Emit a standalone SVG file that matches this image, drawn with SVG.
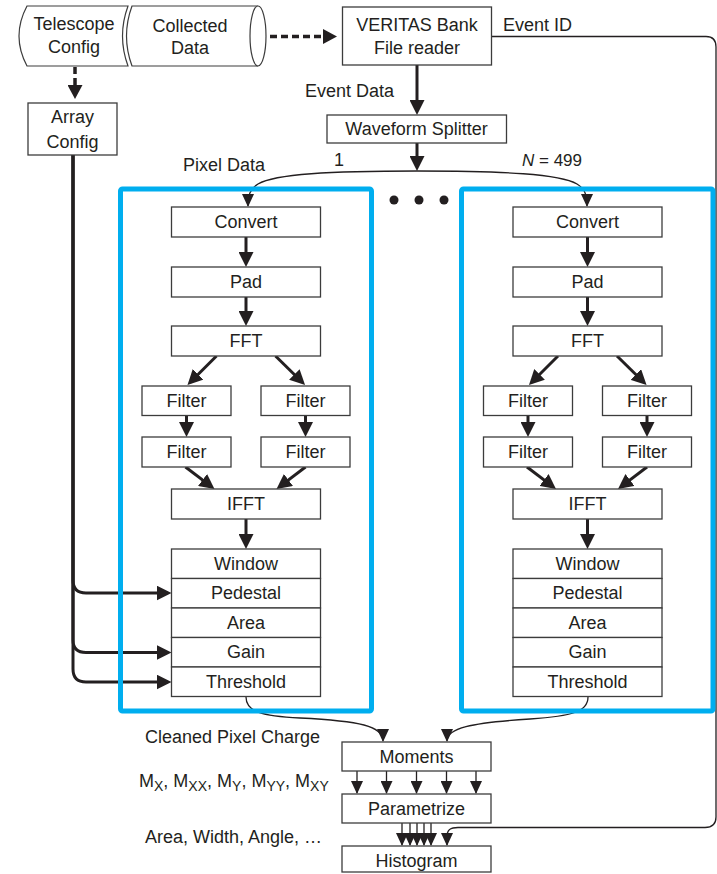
<svg xmlns="http://www.w3.org/2000/svg" width="717" height="874" viewBox="0 0 717 874">
<style>
text{font-family:"Liberation Sans",Arial,sans-serif;font-size:18px;fill:#231f20}
.c{text-anchor:middle}
.box{fill:#fff;stroke:#3c3c3c;stroke-width:1.3}
.cyl{fill:#fff;stroke:#3c3c3c;stroke-width:1.2}
.blue{fill:none;stroke:#00aeef;stroke-width:5}
.thick{fill:none;stroke:#231f20;stroke-width:3}
.thin{fill:none;stroke:#231f20;stroke-width:1.3}
.dash{fill:none;stroke:#231f20;stroke-width:3.5;stroke-dasharray:7 4}
</style>
<defs>
<marker id="a" markerUnits="userSpaceOnUse" viewBox="0 0 15 15" refX="11" refY="7.5" markerWidth="15" markerHeight="15" orient="auto"><path d="M0,0 L15,7.5 L0,15 z" fill="#231f20"/></marker>
<marker id="t" markerUnits="userSpaceOnUse" viewBox="0 0 13 12" refX="12" refY="6" markerWidth="13" markerHeight="12" orient="auto"><path d="M0,0 L13,6 L0,12 z" fill="#231f20"/></marker>
<marker id="d" markerUnits="userSpaceOnUse" viewBox="0 0 14 15" refX="9" refY="7.5" markerWidth="14" markerHeight="15" orient="auto"><path d="M0,0 L14,7.5 L0,15 z" fill="#231f20"/></marker>
</defs>

<g id="connectors">
<path class="dash" d="M259,36.5 H332" marker-end="url(#d)"/>
<path class="dash" d="M75,67 V94" marker-end="url(#d)"/>
<path class="thick" d="M417,65 V111" marker-end="url(#a)"/>
<path class="thick" d="M417,143 V167" marker-end="url(#a)"/>
<path class="thin" d="M417,171 C330,171 275,174 258,184 C250,189 248,195 248,206" marker-end="url(#t)"/>
<path class="thin" d="M417,171 C504,171 560,174 577,184 C585,189 587,195 587,206" marker-end="url(#t)"/>
<path class="thin" d="M491,36.5 H706 Q716,36.5 716,47 V817 Q716,827.5 705,827.5 H458 C450,827.5 447,830 447,836 V845" marker-end="url(#t)"/>
<path class="thick" d="M73,155 V580 Q73,593 86,593 H167.5" marker-end="url(#a)"/>
<path class="thick" d="M73,155 V640 Q73,652.5 86,652.5 H167.5" marker-end="url(#a)"/>
<path class="thick" d="M73,155 V669 Q73,682 86,682 H167.5" marker-end="url(#a)"/>
<!-- left column -->
<path class="thick" d="M246,237 V263" marker-end="url(#a)"/>
<path class="thick" d="M246,297 V322" marker-end="url(#a)"/>
<path class="thick" d="M216.5,356 L190.3,382.2" marker-end="url(#a)"/>
<path class="thick" d="M275.5,356 L302.2,382.2" marker-end="url(#a)"/>
<path class="thick" d="M186.5,415.5 V433" marker-end="url(#a)"/>
<path class="thick" d="M305.5,415.5 V433" marker-end="url(#a)"/>
<path class="thick" d="M185.5,467 L211.3,486.6" marker-end="url(#a)"/>
<path class="thick" d="M305.5,467 L279.7,486.6" marker-end="url(#a)"/>
<path class="thick" d="M246,519 V545" marker-end="url(#a)"/>
<!-- right column -->
<path class="thick" d="M587.5,237 V263" marker-end="url(#a)"/>
<path class="thick" d="M587.5,297 V322" marker-end="url(#a)"/>
<path class="thick" d="M558,356 L531.8,382.2" marker-end="url(#a)"/>
<path class="thick" d="M617,356 L643.7,382.2" marker-end="url(#a)"/>
<path class="thick" d="M528,415.5 V433" marker-end="url(#a)"/>
<path class="thick" d="M647,415.5 V433" marker-end="url(#a)"/>
<path class="thick" d="M527,467 L552.8,486.6" marker-end="url(#a)"/>
<path class="thick" d="M647,467 L621.2,486.6" marker-end="url(#a)"/>
<path class="thick" d="M587.5,519 V545" marker-end="url(#a)"/>
<!-- to moments -->
<path class="thin" d="M246,697 C246,712 262,716 300,718 C360,721 383,726 383,741" marker-end="url(#t)"/>
<path class="thin" d="M588,697 C588,712 572,716 530,719 C470,723 447,728 447,741" marker-end="url(#t)"/>
<path class="thin" d="M357,771 V793" marker-end="url(#t)"/>
<path class="thin" d="M386.5,771 V793" marker-end="url(#t)"/>
<path class="thin" d="M416.5,771 V793" marker-end="url(#t)"/>
<path class="thin" d="M446.5,771 V793" marker-end="url(#t)"/>
<path class="thin" d="M476,771 V793" marker-end="url(#t)"/>
<path class="thin" d="M402,823 V845" marker-end="url(#t)"/>
<path class="thin" d="M410,823 V845" marker-end="url(#t)"/>
<path class="thin" d="M417,823 V845" marker-end="url(#t)"/>
<path class="thin" d="M424,823 V845" marker-end="url(#t)"/>
<path class="thin" d="M431,823 V845" marker-end="url(#t)"/>
</g>

<g id="labels">
<text x="503" y="31">Event ID</text>
<text x="305" y="96.5">Event Data</text>
<text x="183" y="170.5">Pixel Data</text>
<text x="334" y="166">1</text>
<text x="522" y="166" style="font-size:17px"><tspan font-style="italic">N</tspan> = 499</text>
<circle cx="394" cy="200" r="4.5" fill="#231f20"/>
<circle cx="419" cy="200" r="4.5" fill="#231f20"/>
<circle cx="444" cy="200" r="4.5" fill="#231f20"/>
<text x="145" y="742.5">Cleaned Pixel Charge</text>
<text x="139" y="786.5">M<tspan dy="4" style="font-size:14px">X</tspan><tspan dy="-4">, M</tspan><tspan dy="4" style="font-size:14px">XX</tspan><tspan dy="-4">, M</tspan><tspan dy="4" style="font-size:14px">Y</tspan><tspan dy="-4">, M</tspan><tspan dy="4" style="font-size:14px">YY</tspan><tspan dy="-4">, M</tspan><tspan dy="4" style="font-size:14px">XY</tspan></text>
<text x="145" y="843">Area, Width, Angle, …</text>
</g>

<g id="telescope-config">
<path class="cyl" d="M27,6 H128 Q117,36 128,66 H27 Q11,36 27,6 Z"/>
<text class="c" x="74" y="30">Telescope</text>
<text class="c" x="74" y="53">Config</text>
</g>
<g id="collected-data">
<path class="cyl" d="M132,6 H258 A8,30 0 0 1 258,66 H132 Q121,36 132,6 Z"/>
<path class="cyl" d="M258,6 A8,30 0 0 0 258,66"/>
<text class="c" x="190" y="31.5">Collected</text>
<text class="c" x="190" y="53.5">Data</text>
</g>
<g id="array-config">
<rect class="box" x="28" y="103" width="89" height="52"/>
<text class="c" x="72.5" y="123">Array</text>
<text class="c" x="72.5" y="147.5">Config</text>
</g>
<g id="veritas-reader">
<rect class="box" x="342.5" y="7" width="149" height="58"/>
<text class="c" x="417" y="31">VERITAS Bank</text>
<text class="c" x="417" y="54">File reader</text>
</g>
<g id="waveform-splitter">
<rect class="box" x="327" y="115" width="179.5" height="28"/>
<text class="c" x="416.5" y="135">Waveform Splitter</text>
</g>

<g id="pixel-1">
<rect class="blue" x="120.5" y="189" width="251" height="522" rx="2"/>
<g id="convert-1"><rect class="box" x="171.5" y="207" width="149" height="30"/><text class="c" x="246" y="228">Convert</text></g>
<g id="pad-1"><rect class="box" x="171.5" y="267" width="149" height="30"/><text class="c" x="246" y="288">Pad</text></g>
<g id="fft-1"><rect class="box" x="171.5" y="326" width="149" height="30"/><text class="c" x="246" y="347">FFT</text></g>
<g id="filter-1a"><rect class="box" x="142" y="386" width="89" height="29.5"/><text class="c" x="186.5" y="406.5">Filter</text></g>
<g id="filter-1b"><rect class="box" x="261" y="386" width="89" height="29.5"/><text class="c" x="305.5" y="406.5">Filter</text></g>
<g id="filter-1c"><rect class="box" x="142" y="437" width="89" height="30"/><text class="c" x="186.5" y="458">Filter</text></g>
<g id="filter-1d"><rect class="box" x="261" y="437" width="89" height="30"/><text class="c" x="305.5" y="458">Filter</text></g>
<g id="ifft-1"><rect class="box" x="171.5" y="489" width="149" height="30"/><text class="c" x="246" y="510">IFFT</text></g>
<g id="stack-1">
<rect class="box" x="171.5" y="549" width="149" height="29.5"/><text class="c" x="246" y="569.5">Window</text>
<rect class="box" x="171.5" y="578.5" width="149" height="29.5"/><text class="c" x="246" y="599">Pedestal</text>
<rect class="box" x="171.5" y="608" width="149" height="29.5"/><text class="c" x="246" y="628.5">Area</text>
<rect class="box" x="171.5" y="637.5" width="149" height="29.5"/><text class="c" x="246" y="658">Gain</text>
<rect class="box" x="171.5" y="667" width="149" height="29.5"/><text class="c" x="246" y="687.5">Threshold</text>
</g>
</g>

<g id="pixel-N">
<rect class="blue" x="461.5" y="189" width="251.5" height="522" rx="2"/>
<g id="convert-N"><rect class="box" x="513" y="207" width="149" height="30"/><text class="c" x="587.5" y="228">Convert</text></g>
<g id="pad-N"><rect class="box" x="513" y="267" width="149" height="30"/><text class="c" x="587.5" y="288">Pad</text></g>
<g id="fft-N"><rect class="box" x="513" y="326" width="149" height="30"/><text class="c" x="587.5" y="347">FFT</text></g>
<g id="filter-Na"><rect class="box" x="483.5" y="386" width="89" height="29.5"/><text class="c" x="528" y="406.5">Filter</text></g>
<g id="filter-Nb"><rect class="box" x="602.5" y="386" width="89" height="29.5"/><text class="c" x="647" y="406.5">Filter</text></g>
<g id="filter-Nc"><rect class="box" x="483.5" y="437" width="89" height="30"/><text class="c" x="528" y="458">Filter</text></g>
<g id="filter-Nd"><rect class="box" x="602.5" y="437" width="89" height="30"/><text class="c" x="647" y="458">Filter</text></g>
<g id="ifft-N"><rect class="box" x="513" y="489" width="149" height="30"/><text class="c" x="587.5" y="510">IFFT</text></g>
<g id="stack-N">
<rect class="box" x="513" y="549" width="149" height="29.5"/><text class="c" x="587.5" y="569.5">Window</text>
<rect class="box" x="513" y="578.5" width="149" height="29.5"/><text class="c" x="587.5" y="599">Pedestal</text>
<rect class="box" x="513" y="608" width="149" height="29.5"/><text class="c" x="587.5" y="628.5">Area</text>
<rect class="box" x="513" y="637.5" width="149" height="29.5"/><text class="c" x="587.5" y="658">Gain</text>
<rect class="box" x="513" y="667" width="149" height="29.5"/><text class="c" x="587.5" y="687.5">Threshold</text>
</g>
</g>

<g id="moments"><rect class="box" x="342" y="742" width="149" height="29"/><text class="c" x="416.5" y="762.5">Moments</text></g>
<g id="parametrize"><rect class="box" x="342" y="794" width="149" height="29"/><text class="c" x="416.5" y="814.5">Parametrize</text></g>
<g id="histogram"><rect class="box" x="342" y="846" width="149" height="26"/><text class="c" x="416.5" y="866.5">Histogram</text></g>
</svg>
